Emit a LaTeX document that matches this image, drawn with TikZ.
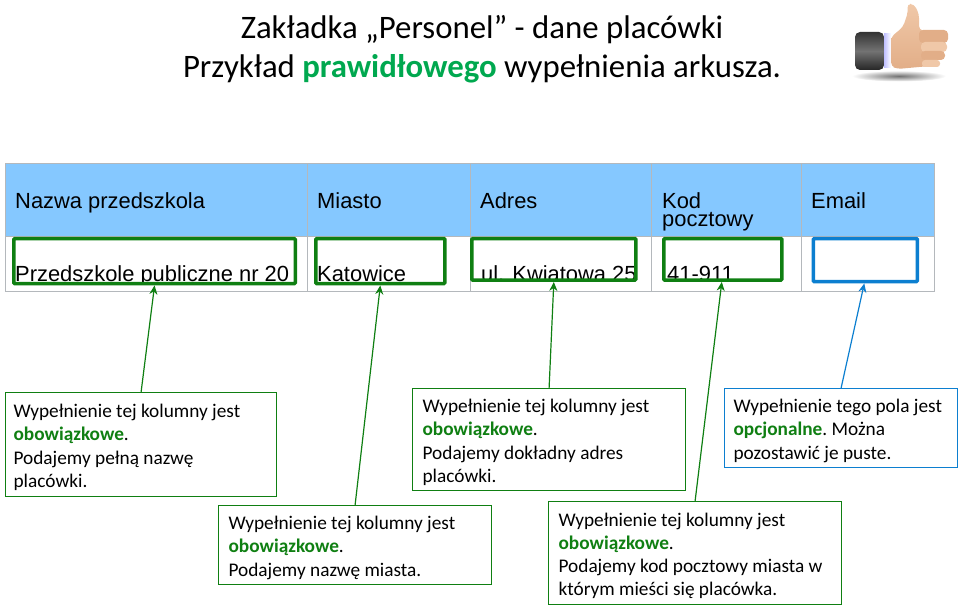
\documentclass[tikz,border=0pt]{standalone}
\usepackage{fontspec}
\setmainfont{Carlito}
\newfontfamily\arialfont{Liberation Sans}
\usepackage{xcolor}
\usetikzlibrary{arrows.meta}
\definecolor{okgreen}{HTML}{0F7F12}
\definecolor{optblue}{HTML}{0C7FD0}
\definecolor{headblue}{HTML}{85C8FF}
\definecolor{gridgray}{HTML}{B4B8BC}
\definecolor{titlegreen}{HTML}{00A84F}
\definecolor{handdark}{HTML}{E2AE88}
\definecolor{handlight}{HTML}{F0C8A8}
\tikzset{
  headcell/.style={fill=headblue,draw=gridgray,line width=0.7pt,anchor=north west,inner sep=0pt,minimum height=73pt},
  datacell/.style={draw=gridgray,line width=0.7pt,anchor=north west,inner sep=0pt,minimum height=55pt},
  celltext/.style={font=\arialfont\fontsize{21.9}{18}\selectfont,anchor=base west,inner sep=0pt,align=left},
  frame/.style={draw=#1,line width=3.6pt,rounded corners=1pt,anchor=north west,inner sep=0pt},
  callout/.style={draw=#1,line width=1.2pt,fill=white,anchor=north west,inner sep=0pt,align=flush left,font=\frenchspacing\fontsize{19.3}{23.2}\selectfont,execute at begin node={\rule{0pt}{19pt}}},
  tag/.style={-{Stealth[length=9pt,width=8pt]},draw=#1,line width=1.2pt}
}
\newcommand{\must}[1]{\textcolor{okgreen}{\textbf{#1}}}
\begin{document}
\begin{tikzpicture}[x=1pt,y=-1pt]
\useasboundingbox (0,0) rectangle (960,607);
% title
\node[font=\fontsize{32.8}{38.5}\selectfont,align=center,inner sep=0pt] (title) at (482,49) {Zakładka „Personel” - dane placówki\\Przykład \textcolor{titlegreen}{\textbf{prawidłowego}} wypełnienia arkusza.};
% thumb
\shade[inner color=black!55,outer color=white] (899,76) ellipse (47 and 5.5);
\shade[top color=black!80,bottom color=black!85,middle color=black!55,rounded corners=5pt] (855,32) rectangle (884,70);
\shade[left color=blue!25,right color=white] (884,34) rectangle (891,68);
\shade[top color=handlight,bottom color=handdark,rounded corners=4pt] (891,37) -- (903,27) -- (908,12) -- (907,4) -- (914,4) -- (919,14) -- (919,30) -- (930,32) -- (930,66) -- (897,69) -- (891,66) -- cycle;
\fill[handdark,rounded corners=4pt] (919,30) rectangle (948,43);
\fill[handlight,rounded corners=4pt] (921,42) rectangle (947,52);
\fill[handdark,rounded corners=4pt] (921,51) rectangle (945,60);
\fill[handlight,rounded corners=3pt] (922,60) rectangle (940,67);
% table head
\node[headcell,minimum width=302pt] (hnazwa) at (5,163) {};
\node[headcell,minimum width=163pt] (hmiasto) at (307,163) {};
\node[headcell,minimum width=181pt] (hadres) at (470,163) {};
\node[headcell,minimum width=150pt] (hkod) at (651,163) {};
\node[headcell,minimum width=133pt] (hemail) at (801,163) {};
\node[celltext] (tnazwa) at (15,208) {Nazwa przedszkola};
\node[celltext] (tmiasto) at (317,208) {Miasto};
\node[celltext] (tadres) at (480,208) {Adres};
\node[celltext] (tkod) at (662,226) {Kod\\pocztowy};
\node[celltext] (temail) at (811,208) {Email};
% table row
\node[celltext] (dnazwa) at (15,281.5) {Przedszkole publiczne nr 20};
\node[celltext] (dmiasto) at (317,281.5) {Katowice};
\node[celltext] (dadres) at (481,281.5) {ul. Kwiatowa 25};
\node[celltext] (dkod) at (667,281.5) {41-911};
\fill[white] (6,284) rectangle (470,290);
\fill[white] (470,280) rectangle (800,290);
\node[datacell,minimum width=302pt] (cnazwa) at (5,236) {};
\node[datacell,minimum width=163pt] (cmiasto) at (307,236) {};
\node[datacell,minimum width=181pt] (cadres) at (470,236) {};
\node[datacell,minimum width=150pt] (ckod) at (651,236) {};
\node[datacell,minimum width=133pt] (cemail) at (801,236) {};
% frames
\node[frame=okgreen,minimum width=281.5pt,minimum height=45pt] (fnazwa) at (12,236.8) {};
\node[frame=okgreen,minimum width=129pt,minimum height=45pt] (fmiasto) at (314,236.8) {};
\node[frame=okgreen,minimum width=164pt,minimum height=41.5pt] (fadres) at (470,236.8) {};
\node[frame=okgreen,minimum width=118pt,minimum height=41.5pt] (fkod) at (662,236.8) {};
\node[frame=optblue,minimum width=104pt,minimum height=43pt] (femail) at (811.5,236.8) {};
% callouts
\node[callout=okgreen,minimum width=271pt,minimum height=104pt,text width=255pt] (cnaz) at (5,392) {Wypełnienie tej kolumny jest\\\must{obowiązkowe}.\\Podajemy pełną nazwę\\placówki.};
\node[callout=okgreen,minimum width=273pt,minimum height=79pt,text width=253pt] (cmia) at (218,505) {Wypełnienie tej kolumny jest\\\must{obowiązkowe}.\\Podajemy nazwę miasta.};
\node[callout=okgreen,minimum width=273pt,minimum height=102pt,text width=253pt] (cadr) at (412,388) {Wypełnienie tej kolumny jest\\\must{obowiązkowe}.\\Podajemy dokładny adres\\placówki.};
\node[callout=okgreen,minimum width=293pt,minimum height=103pt,text width=273pt] (ckd) at (548,501) {Wypełnienie tej kolumny jest\\\must{obowiązkowe}.\\Podajemy kod pocztowy miasta w\\którym mieści się placówka.};
\node[callout=optblue,minimum width=233pt,minimum height=79pt,text width=215pt] (cem) at (724,388) {Wypełnienie tego pola jest\\\must{opcjonalne}. Można\\pozostawić je puste.};
% connectors
\draw[tag=okgreen] (cnaz.north) -- (fnazwa.south);
\draw[tag=okgreen] (cmia.north) -- (fmiasto.south);
\draw[tag=okgreen] (cadr.north) -- (fadres.south);
\draw[tag=okgreen] (ckd.north) -- ([xshift=-1pt]fkod.south);
\draw[tag=optblue] (cem.north) -- ([xshift=-1pt]femail.south);
\end{tikzpicture}
\end{document}
